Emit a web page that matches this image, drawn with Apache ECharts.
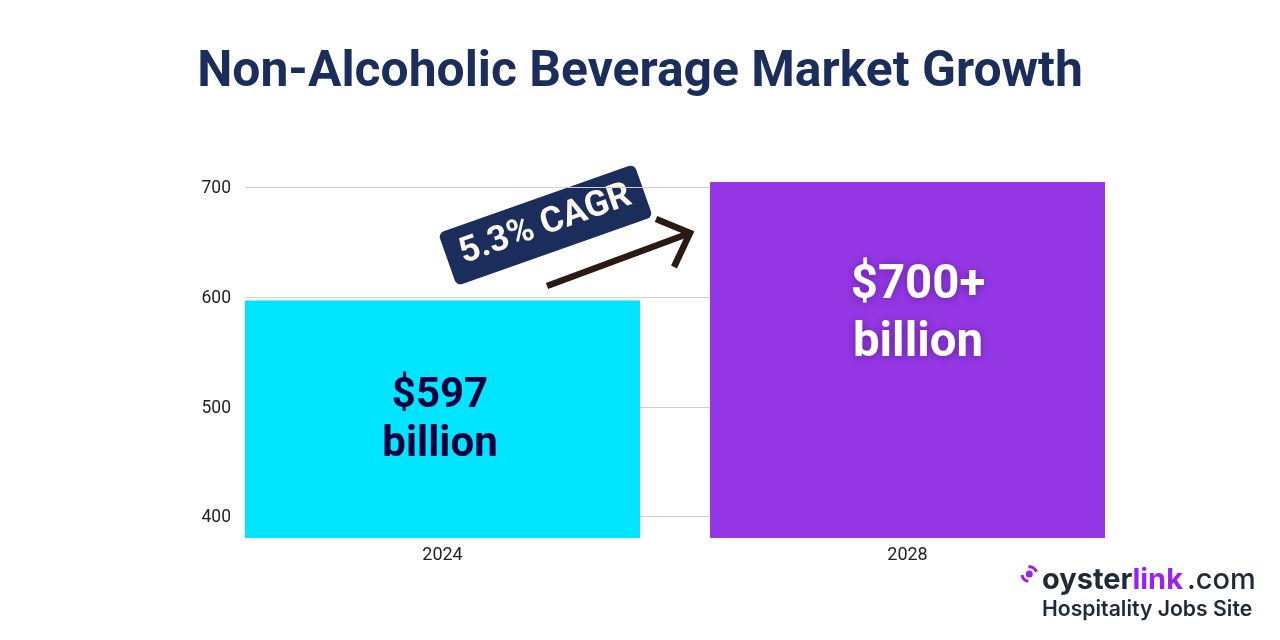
<!DOCTYPE html>
<html><head><meta charset="utf-8">
<style>html,body{margin:0;padding:0;background:#fff}#c{width:1280px;height:640px}</style>
<script src="https://cdn.jsdelivr.net/npm/echarts@6/dist/echarts.min.js"></script>
</head><body><div id="c"></div>
<script>
const titleText = 'Non-Alcoholic Beverage Market Growth';
const years = [2024, 2028];
const values = [597, 705];
const barLabels = ['{a|$597}\n{a|billion}', '{b|$700+}\n{b|billion}'];
const yTicks = [400, 500, 600, 700];
const badgeText = '5.3% CAGR';

const chart = echarts.init(document.getElementById('c'), null, {renderer:'canvas'});
chart.setOption({
  animation:false,
  backgroundColor:'#fff',
  textStyle:{fontFamily:'Roboto'},
  title:{text:titleText,left:'center',top:44,textStyle:{fontFamily:'Roboto',fontWeight:700,fontSize:49.8,color:'#1b2d5b'}},
  grid:{left:245,right:175,top:182,bottom:102},
  xAxis:{type:'value',min:2022.301,max:2029.699,
    axisLine:{show:false},axisTick:{show:false,customValues:years},splitLine:{show:false},
    axisLabel:{customValues:years,formatter:v=>String(v),fontFamily:'Roboto',fontSize:18,color:'#222',margin:8}},
  yAxis:{type:'value',min:380.4,max:705,
    axisLine:{show:false},axisTick:{show:false,customValues:yTicks},
    splitLine:{show:true,lineStyle:{color:'#cfcfcf',width:1}},
    axisLabel:{customValues:yTicks,fontFamily:'Roboto',fontSize:17.5,color:'#222',margin:14,verticalAlign:'top',padding:[-7.5,0,0,0]}},
  series:[{type:'bar',barWidth:395,
    data:years.map((y,i)=>({value:[y,values[i]],
      itemStyle:{color:i?'#9436e4':'#00e5ff'},
      label:{show:true,position:'insideTop',distance:i?75:72,offset:[i?10.5:-2.5,0],formatter:barLabels[i],
        rich:{
          a:{fontFamily:'Roboto',fontWeight:700,fontSize:42,lineHeight:49,color:'#04003f'},
          b:{fontFamily:'Roboto',fontWeight:700,fontSize:47.4,lineHeight:58,color:'#fff',
             textShadowColor:'rgba(0,0,0,0.3)',textShadowBlur:8,textShadowOffsetY:1}
        }}
    }))
  }],
  graphic:[
    {type:'group',x:545.5,y:225,rotation:19.4*Math.PI/180,silent:true,children:[
      {type:'rect',shape:{x:-104,y:-28,width:208,height:56,r:6},style:{fill:'#1b2d5b'}},
      {type:'text',style:{text:badgeText,x:0,y:0,align:'center',verticalAlign:'middle',
        font:'700 35.5px Roboto',fill:'#fbf8ef'}}
    ]},
    {type:'polyline',silent:true,shape:{points:[[547,286],[690,233]]},style:{stroke:'#2b1a12',lineWidth:6.5,fill:null}},
    {type:'polyline',silent:true,shape:{points:[[656,219],[690,233],[674,267]]},style:{stroke:'#2b1a12',lineWidth:6.5,fill:null}},
    {type:'circle',silent:true,shape:{cx:1029.3,cy:574,r:3.5},style:{fill:'#9b1ff0'}},
    {type:'arc',silent:true,shape:{cx:1029.3,cy:574,r:7.3,startAngle:-1.7,endAngle:-0.3},style:{stroke:'#9b1ff0',lineWidth:3,fill:null}},
    {type:'arc',silent:true,shape:{cx:1029.3,cy:574,r:7.3,startAngle:1.7,endAngle:3.0},style:{stroke:'#9b1ff0',lineWidth:3,fill:null}},
    {type:'text',silent:true,style:{x:1042,y:580,verticalAlign:'middle',
      text:'{d|oyster}{p|link}{c|.com}',
      rich:{d:{font:'700 29px Inter',fill:'#1f2a37'},p:{font:'700 29px Inter',fill:'#9b1ff0'},
            c:{font:'500 29px Inter',fill:'#1f2a37',padding:[0,0,0,4]}}}},
    {type:'text',silent:true,style:{x:1042,y:610,verticalAlign:'middle',text:'Hospitality Jobs Site',
      font:'600 21.2px Inter',fill:'#1f2a37'}}
  ]
});
</script></body></html>
